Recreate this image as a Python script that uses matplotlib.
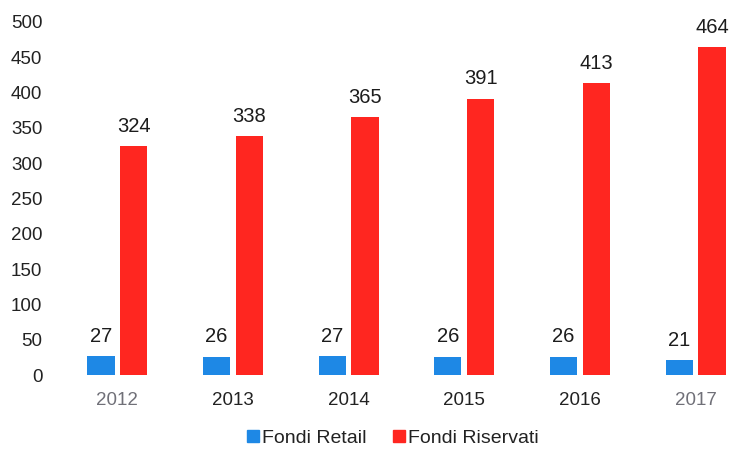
import matplotlib
matplotlib.use("Agg")
import matplotlib.pyplot as plt
import numpy as np
from matplotlib.lines import Line2D

plt.rcParams['font.family'] = ['Liberation Sans', 'DejaVu Sans']

years = ["2012", "2013", "2014", "2015", "2016", "2017"]
retail = [27, 26, 27, 26, 26, 21]
riservati = [324, 338, 365, 391, 413, 464]
y_ticks = [0, 50, 100, 150, 200, 250, 300, 350, 400, 450, 500]

blue = "#1e88e5"
red = "#ff2620"
text_dark = "#222222"

fig = plt.figure(figsize=(7.36, 4.5), dpi=100)
ax = fig.add_axes([48 / 736, 75 / 450, 688 / 736, (428.3 - 75) / 450])

x = np.arange(len(years))
w = 0.235
off = 0.142
b1 = ax.bar(x - off, retail, width=w, color=blue)
b2 = ax.bar(x + off, riservati, width=w, color=red)

for bars, vals in ((b1, retail), (b2, riservati)):
    for rect, v in zip(bars, vals):
        ax.annotate(str(v), (rect.get_x() + rect.get_width() / 2, v),
                    xytext=(0, 7.5), textcoords="offset points",
                    ha="center", va="bottom", fontsize=14.5, color="#1c1c1c")

ax.set_xlim(-0.6, 5.35)
ax.set_ylim(0, 500)
ax.set_yticks(y_ticks)
ax.set_yticklabels([str(t) for t in y_ticks], fontsize=13.5, color=text_dark)
ax.set_xticks(x)
ax.set_xticklabels(years, fontsize=13.5)
for i, lbl in enumerate(ax.get_xticklabels()):
    lbl.set_color("#707078" if i in (0, len(years) - 1) else text_dark)
ax.tick_params(axis="y", length=0, pad=4)
ax.tick_params(axis="x", length=0, pad=12)
for s in ax.spines.values():
    s.set_visible(False)

handles = [Line2D([], [], marker="s", linestyle="", markersize=9, color=blue),
           Line2D([], [], marker="s", linestyle="", markersize=9, color=red)]
fig.legend(handles, ["Fondi Retail", "Fondi Riservati"], loc="center",
           bbox_to_anchor=(392 / 736, 1 - 438 / 450), ncol=2, frameon=False,
           fontsize=14, handletextpad=0.05, columnspacing=1.3,
           handlelength=0.8, labelcolor=text_dark)

fig.savefig("out.png", dpi=100, facecolor="white")
